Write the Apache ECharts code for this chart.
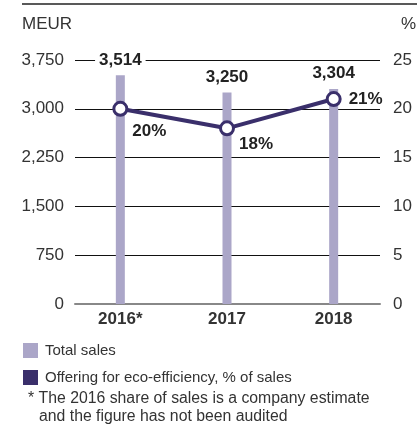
<!DOCTYPE html>
<html><head><meta charset="utf-8">
<script src="https://cdn.jsdelivr.net/npm/echarts@6/dist/echarts.min.js"></script>
<style>html,body{margin:0;padding:0;background:#fff}#c{width:417px;height:432px}</style>
</head><body><div id="c"></div>
<script>
const categories = ['2016*', '2017', '2018'];
const totalSales = [3514, 3250, 3304];
const ecoShare = [20, 18, 21];
const leftTicks = [0, 750, 1500, 2250, 3000, 3750];
const rightTicks = [0, 5, 10, 15, 20, 25];
const seriesNames = ['Total sales', 'Offering for eco-efficiency, % of sales'];
const footnote = ['* The 2016 share of sales is a company estimate', 'and the figure has not been audited'];

const FONT = 'Liberation Sans, Arial, sans-serif';
const TXT = '#222';
const BAR = '#aba6c8';
const LINE = '#3a2f6b';
const pctOffsets = [[0, 23], [0, 16], [3, 0]];

const chart = echarts.init(document.getElementById('c'), null, {renderer: 'canvas'});
const gridTop = 60, gridBottom = 128;
chart.setOption({
  animation: false,
  textStyle: {fontFamily: FONT},
  grid: [
    {left: 75, right: 37, top: gridTop, bottom: gridBottom},
    {left: 67, width: 320, top: gridTop, bottom: gridBottom}
  ],
  legend: {
    orient: 'vertical', left: 23, top: 343, padding: 0, itemWidth: 15, itemHeight: 15, itemGap: 12,
    textStyle: {fontSize: 15, color: '#333', fontFamily: FONT, padding: [0, 0, 0, 2]},
    data: [
      {name: seriesNames[0], icon: 'rect', itemStyle: {color: BAR}},
      {name: seriesNames[1], icon: 'rect', itemStyle: {color: LINE, borderWidth: 0}}
    ]
  },
  xAxis: [
    {gridIndex: 0, type: 'value', min: 0, max: 1, axisLine: {show: true, onZero: false, lineStyle: {color: '#888', width: 2}},
     axisTick: {show: false}, axisLabel: {show: false}, splitLine: {show: false}},
    {gridIndex: 1, type: 'category', data: categories, axisLine: {show: false}, axisTick: {show: false},
     axisLabel: {fontSize: 17, fontWeight: 'bold', color: '#333', margin: 7, fontFamily: FONT}}
  ],
  yAxis: [
    {gridIndex: 0, type: 'value', min: leftTicks[0], max: leftTicks[leftTicks.length - 1], interval: leftTicks[1] - leftTicks[0],
     axisLine: {show: false}, axisTick: {show: false},
     axisLabel: {fontSize: 17, color: '#333', margin: 11, fontFamily: FONT,
       formatter: v => v.toLocaleString('en-US')},
     splitLine: {lineStyle: {color: '#111', width: 1}}},
    {gridIndex: 0, type: 'value', position: 'right', min: rightTicks[0], max: rightTicks[rightTicks.length - 1], interval: rightTicks[1] - rightTicks[0],
     axisLine: {show: false}, axisTick: {show: false}, splitLine: {show: false},
     axisLabel: {fontSize: 17, color: '#333', margin: 13, fontFamily: FONT}},
    {gridIndex: 1, type: 'value', min: leftTicks[0], max: leftTicks[leftTicks.length - 1], show: false},
    {gridIndex: 1, type: 'value', min: rightTicks[0], max: rightTicks[rightTicks.length - 1], show: false}
  ],
  graphic: [
    {type: 'line', shape: {x1: 22, y1: 4, x2: 417, y2: 4}, style: {stroke: '#222', lineWidth: 1.5}},
    {type: 'text', x: 22, y: 16, style: {text: 'MEUR', fontSize: 17, fill: '#333', fontFamily: FONT}},
    {type: 'text', x: 401, y: 16, style: {text: '%', fontSize: 17, fill: '#333', fontFamily: FONT}},
    {type: 'text', x: 28, y: 391, style: {text: footnote[0], fontSize: 15.8, fill: '#333', fontFamily: FONT}},
    {type: 'text', x: 39, y: 409, style: {text: footnote[1], fontSize: 15.8, fill: '#333', fontFamily: FONT}}
  ],
  series: [
    {name: seriesNames[0], type: 'bar', xAxisIndex: 1, yAxisIndex: 2, data: totalSales, barWidth: 9,
     itemStyle: {color: BAR},
     label: {show: true, position: 'top', distance: 7, fontFamily: FONT,
       formatter: p => '{b|' + p.value.toLocaleString('en-US') + '}',
       rich: {b: {fontSize: 17, fontWeight: 'bold', color: TXT, fontFamily: FONT, backgroundColor: '#fff', padding: [0, 4]}}}},
    {name: seriesNames[1], type: 'line', xAxisIndex: 1, yAxisIndex: 3, z: 5,
     data: ecoShare.map((v, i) => ({value: v, label: {offset: pctOffsets[i]}})),
     symbol: 'circle', symbolSize: 13, lineStyle: {color: LINE, width: 4},
     itemStyle: {color: '#fff', borderColor: LINE, borderWidth: 3},
     label: {show: true, position: 'right', distance: 4, fontSize: 17, fontWeight: 'bold', color: TXT, fontFamily: FONT,
       formatter: p => p.value + '%'}}
  ]
});
</script></body></html>
